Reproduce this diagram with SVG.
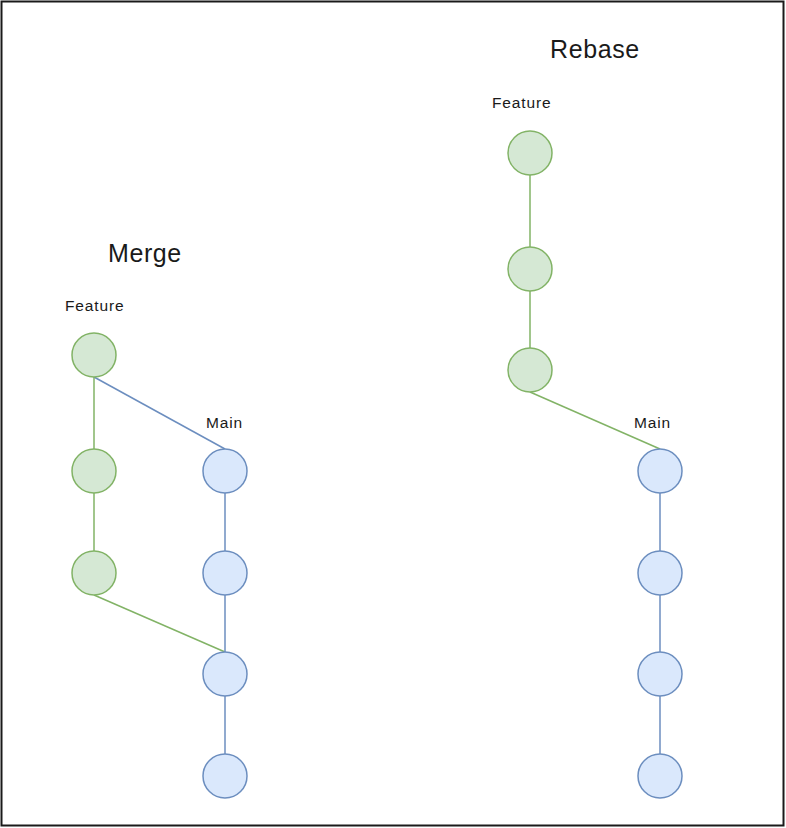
<svg xmlns="http://www.w3.org/2000/svg" width="786" height="828" viewBox="0 0 786 828">
<style>
.g{fill:#d5e8d4;stroke:#82b366;stroke-width:1.5}
.b{fill:#dae8fc;stroke:#6c8ebf;stroke-width:1.5}
.lg{stroke:#82b366;stroke-width:1.5;fill:none}
.lb{stroke:#6c8ebf;stroke-width:1.5;fill:none}
.t{font-family:"Liberation Sans",Arial,sans-serif;fill:#1a1a1a}
.s{font-size:15.5px;letter-spacing:0.85px}
.h{font-size:25px;letter-spacing:0.6px}
</style>
<rect x="0" y="0" width="786" height="828" fill="#ffffff"/>
<rect x="1.5" y="1.5" width="782" height="824" fill="none" stroke="#1a1a1a" stroke-width="2"/>
<text class="t h" x="108" y="262">Merge</text>
<text class="t h" x="550" y="58">Rebase</text>
<text class="t s" x="65" y="311">Feature</text>
<text class="t s" x="206" y="428">Main</text>
<text class="t s" x="492" y="108">Feature</text>
<text class="t s" x="634" y="428">Main</text>
<g id="connectors">
<line class="lg" x1="94" y1="377" x2="94" y2="449"/>
<line class="lg" x1="94" y1="493" x2="94" y2="551"/>
<line class="lb" x1="94" y1="377" x2="225" y2="449"/>
<line class="lg" x1="94" y1="595" x2="225" y2="652"/>
<line class="lb" x1="225" y1="493" x2="225" y2="551"/>
<line class="lb" x1="225" y1="595" x2="225" y2="652"/>
<line class="lb" x1="225" y1="696" x2="225" y2="754"/>
<line class="lg" x1="530" y1="175" x2="530" y2="247"/>
<line class="lg" x1="530" y1="291" x2="530" y2="348"/>
<line class="lg" x1="530" y1="392" x2="660" y2="449"/>
<line class="lb" x1="660" y1="493" x2="660" y2="551"/>
<line class="lb" x1="660" y1="595" x2="660" y2="652"/>
<line class="lb" x1="660" y1="696" x2="660" y2="754"/>
</g>
<g id="mf1"><circle class="g" cx="94" cy="355" r="22"/></g>
<g id="mf2"><circle class="g" cx="94" cy="471" r="22"/></g>
<g id="mf3"><circle class="g" cx="94" cy="573" r="22"/></g>
<g id="mm1"><circle class="b" cx="225" cy="471" r="22"/></g>
<g id="mm2"><circle class="b" cx="225" cy="573" r="22"/></g>
<g id="mm3"><circle class="b" cx="225" cy="674" r="22"/></g>
<g id="mm4"><circle class="b" cx="225" cy="776" r="22"/></g>
<g id="rf1"><circle class="g" cx="530" cy="153" r="22"/></g>
<g id="rf2"><circle class="g" cx="530" cy="269" r="22"/></g>
<g id="rf3"><circle class="g" cx="530" cy="370" r="22"/></g>
<g id="rm1"><circle class="b" cx="660" cy="471" r="22"/></g>
<g id="rm2"><circle class="b" cx="660" cy="573" r="22"/></g>
<g id="rm3"><circle class="b" cx="660" cy="674" r="22"/></g>
<g id="rm4"><circle class="b" cx="660" cy="776" r="22"/></g>
</svg>
